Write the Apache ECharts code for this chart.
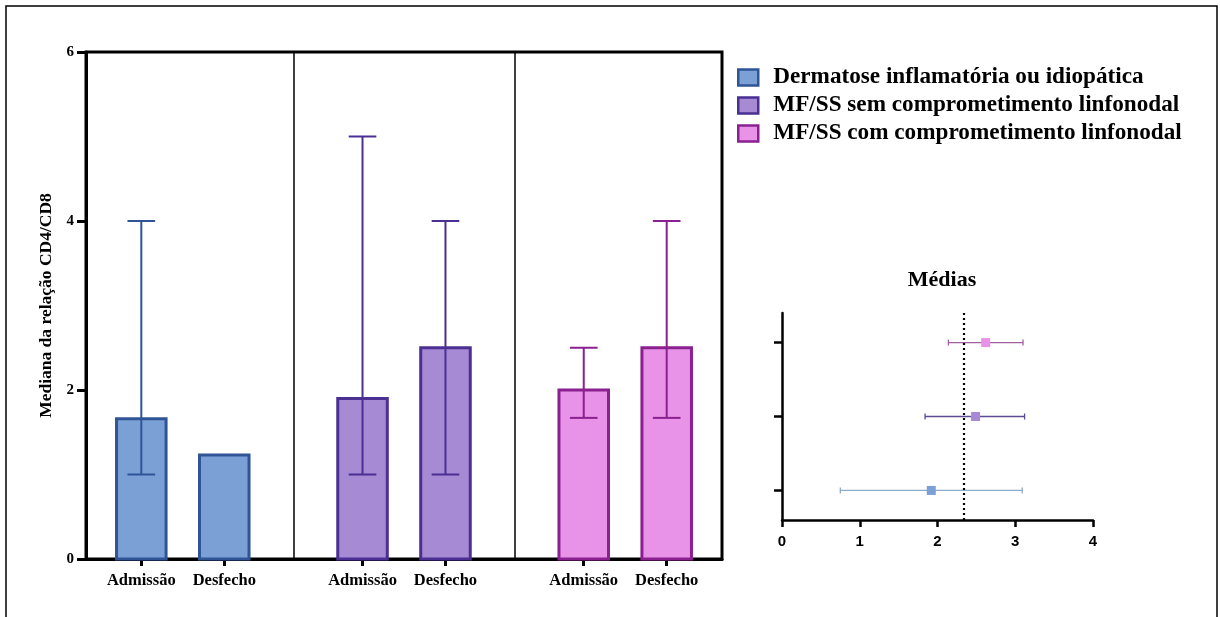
<!DOCTYPE html>
<html>
<head>
<meta charset="utf-8">
<script src="https://cdn.jsdelivr.net/npm/echarts@6/dist/echarts.min.js"></script>
<style>html,body{margin:0;padding:0;background:#fff}#c{width:1220px;height:617px}</style>
</head>
<body>
<div id="c"></div>
<script>
// ---- data ----
const categories = ['Admissão', 'Desfecho'];
const groups = ['Dermatose inflamatória ou idiopática', 'MF/SS sem comprometimento linfonodal', 'MF/SS com comprometimento linfonodal'];
const medians = [[1.66, 1.23], [1.9, 2.5], [2.0, 2.5]];
const errLow = [[1.0, null], [1.0, 1.0], [1.67, 1.67]];
const errHigh = [[4.0, null], [5.0, 4.0], [2.5, 4.0]];
const yTicks = [0, 2, 4, 6];
const meanValues = [1.92, 2.49, 2.62];
const meanLow = [0.75, 1.84, 2.14];
const meanHigh = [3.09, 3.12, 3.10];
const overallMean = 2.34;
const insetTicks = [0, 1, 2, 3, 4];
const insetTitle = 'Médias';
const yName = 'Mediana da relação CD4/CD8';

// ---- styles ----
const fills = ['#7ba0d6', '#a68ad4', '#e893e8'];
const borders = ['#2f5597', '#4b2f92', '#8b2090'];
const meanLine = ['#8eabcc', '#5e4a93', '#a0609f'];
const serif = 'Liberation Serif';

// layout in axis units (group period 8, item spacing 3)
function xPos(g, i) { return 2 + g * 8 + i * 3; }
const tickPos = [], tickLab = {};
groups.forEach((_, g) => categories.forEach((c, i) => { const p = xPos(g, i); tickPos.push(p); tickLab[p] = c; }));

const barSeries = groups.map((name, g) => ({
  type: 'custom', name: name, xAxisIndex: 0, yAxisIndex: 0, z: 3,
  data: categories.map((c, i) => [xPos(g, i), medians[g][i], errLow[g][i], errHigh[g][i]]),
  renderItem: function (params, api) {
    const x = api.value(0), v = api.value(1);
    const w = api.size([1.9, 0])[0] - 3;
    const top = api.coord([x, v]), base = api.coord([x, 0]);
    const children = [{
      type: 'rect',
      shape: { x: top[0] - w / 2, y: top[1], width: w, height: base[1] - top[1] },
      style: { fill: fills[g], stroke: borders[g], lineWidth: 3 }
    }];
    const lo = api.value(2), hi = api.value(3);
    if (!isNaN(lo) && !isNaN(hi)) {
      const pl = api.coord([x, lo]), ph = api.coord([x, hi]);
      const cw = api.size([1, 0])[0] / 2;
      const st = { stroke: borders[g], lineWidth: 2 };
      children.push({ type: 'line', shape: { x1: pl[0], y1: pl[1], x2: ph[0], y2: ph[1] }, style: st });
      children.push({ type: 'line', shape: { x1: ph[0] - cw, y1: ph[1], x2: ph[0] + cw, y2: ph[1] }, style: st });
      children.push({ type: 'line', shape: { x1: pl[0] - cw, y1: pl[1], x2: pl[0] + cw, y2: pl[1] }, style: st });
    }
    return { type: 'group', children: children };
  }
}));

const insetSeries = {
  type: 'custom', xAxisIndex: 1, yAxisIndex: 1, z: 4,
  data: meanValues.map((m, k) => [m, meanLow[k], meanHigh[k], k + 1, k]),
  renderItem: function (params, api) {
    const k = api.value(4);
    const pm = api.coord([api.value(0), api.value(3)]);
    const pl = api.coord([api.value(1), api.value(3)]);
    const ph = api.coord([api.value(2), api.value(3)]);
    const st = { stroke: meanLine[k], lineWidth: 1.3 };
    return { type: 'group', children: [
      { type: 'line', shape: { x1: pl[0], y1: pl[1], x2: ph[0], y2: ph[1] }, style: st },
      { type: 'line', shape: { x1: pl[0], y1: pl[1] - 3, x2: pl[0], y2: pl[1] + 3 }, style: st },
      { type: 'line', shape: { x1: ph[0], y1: ph[1] - 3, x2: ph[0], y2: ph[1] + 3 }, style: st },
      { type: 'rect', shape: { x: pm[0] - 4.5, y: pm[1] - 4.5, width: 9, height: 9 }, style: { fill: fills[k] } }
    ]};
  }
};

const option = {
  animation: false,
  backgroundColor: '#fff',
  graphic: [{ type: 'rect', z: -1, shape: { x: 6, y: 6, width: 1211, height: 700 }, style: { fill: 'none', stroke: '#000', lineWidth: 1.5 } }],
  title: { text: insetTitle, left: 937, top: 264, textAlign: 'center',
    textStyle: { fontFamily: serif, fontWeight: 'bold', fontSize: 22, color: '#000' } },
  legend: {
    orient: 'vertical', left: 732, top: 61, itemWidth: 20, itemHeight: 16, itemGap: 5, icon: 'rect',
    textStyle: { fontFamily: serif, fontWeight: 'bold', fontSize: 23.2, color: '#000', padding: [0, 0, 0, 10] },
    data: groups.map((n, g) => ({ name: n, itemStyle: { color: fills[g], borderColor: borders[g], borderWidth: 2.5 } }))
  },
  grid: [
    { left: 86, right: 498, top: 52, bottom: 58, show: true, borderColor: '#000', borderWidth: 3 },
    { left: 782, right: 127, top: 313, bottom: 97 }
  ],
  xAxis: [
    { type: 'value', gridIndex: 0, min: 0, max: 23, splitLine: { show: false },
      axisLine: { show: true, lineStyle: { color: '#000', width: 3 } },
      axisTick: { show: true, customValues: tickPos, length: 7, lineStyle: { color: '#000', width: 3 } },
      axisLabel: { customValues: tickPos, formatter: v => tickLab[v] || '', margin: 13,
        fontFamily: serif, fontWeight: 'bold', fontSize: 16.5, color: '#000' } },
    { type: 'value', gridIndex: 1, min: 0, max: 4, interval: 1, splitLine: { show: false },
      axisLine: { show: true, lineStyle: { color: '#000', width: 2.5 } },
      axisTick: { show: true, length: 7, lineStyle: { color: '#000', width: 2.5 } },
      axisLabel: { margin: 14, fontFamily: 'Liberation Sans', fontWeight: 'bold', fontSize: 15, color: '#000',
        formatter: v => (insetTicks.indexOf(v) >= 0 ? String(v) : '') } }
  ],
  yAxis: [
    { type: 'value', gridIndex: 0, min: 0, max: 6, interval: 2, splitLine: { show: false },
      name: yName, nameLocation: 'middle', nameGap: 29, nameRotate: 90,
      nameTextStyle: { fontFamily: serif, fontWeight: 'bold', fontSize: 17.5, color: '#000' },
      axisLine: { show: true, lineStyle: { color: '#000', width: 3 } },
      axisTick: { show: true, length: 9, lineStyle: { color: '#000', width: 3 } },
      axisLabel: { margin: 12, fontFamily: serif, fontWeight: 'bold', fontSize: 15, color: '#000',
        formatter: v => (yTicks.indexOf(v) >= 0 ? String(v) : '') } },
    { type: 'value', gridIndex: 1, min: 0.6, max: 3.4, splitLine: { show: false },
      axisLine: { show: true, lineStyle: { color: '#000', width: 2.5 } },
      axisTick: { show: true, customValues: [1, 2, 3], length: 8, lineStyle: { color: '#000', width: 2.5 } },
      axisLabel: { show: false } }
  ],
  series: barSeries.concat([
    insetSeries,
    { type: 'line', xAxisIndex: 0, yAxisIndex: 0, data: [], z: 2,
      markLine: { silent: true, symbol: 'none', label: { show: false },
        lineStyle: { color: '#000', width: 1.5, type: 'solid' },
        data: [{ xAxis: 7.5 }, { xAxis: 15.5 }] } },
    { type: 'line', xAxisIndex: 1, yAxisIndex: 1, data: [], z: 2,
      markLine: { silent: true, symbol: 'none', label: { show: false },
        lineStyle: { color: '#000', width: 2.2, type: [2, 3] },
        data: [{ xAxis: overallMean }] } }
  ])
};
echarts.init(document.getElementById('c'), null, { renderer: 'canvas' }).setOption(option);
</script>
</body>
</html>
